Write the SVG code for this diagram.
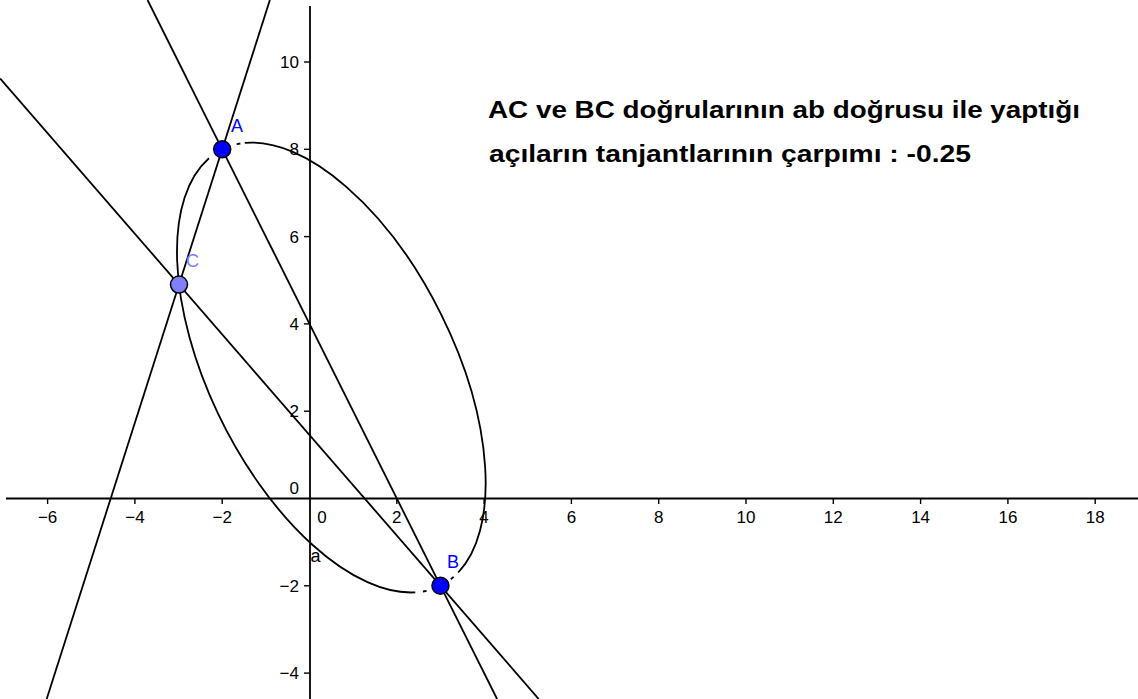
<svg xmlns="http://www.w3.org/2000/svg" width="1138" height="699" viewBox="0 0 1138 699">
<style>
.ax{stroke:#000;stroke-width:1.8;fill:none}
.tk{stroke:#000;stroke-width:1.4}
.ln{stroke:#000;stroke-width:1.8;fill:none}
.cv{stroke:#000;stroke-width:1.8;fill:none}
.num{font-family:"Liberation Sans",Arial,sans-serif;font-size:17px;fill:#000}
.lbl{font-family:"Liberation Sans",Arial,sans-serif;font-size:18px;fill:#000}
.xn{text-anchor:middle}
.yn{text-anchor:end}
.pl{font-family:"Liberation Sans",Arial,sans-serif;font-size:18px}
.pt{stroke:#000;stroke-width:1.5}
.ttl{font-family:"Liberation Sans",Arial,sans-serif;font-size:24px;font-weight:bold;fill:#000}
</style>
<rect width="1138" height="699" fill="#fff"/>
<g id="axes">
<line class="ax" x1="6" y1="498.5" x2="1138" y2="498.5"/>
<line class="ax" x1="310" y1="6" x2="310" y2="699"/>
<g class="tk">
<line x1="47.6" y1="498.5" x2="47.6" y2="504"/>
<line x1="134.9" y1="498.5" x2="134.9" y2="504"/>
<line x1="222.2" y1="498.5" x2="222.2" y2="504"/>
<line x1="396.8" y1="498.5" x2="396.8" y2="504"/>
<line x1="484.1" y1="498.5" x2="484.1" y2="504"/>
<line x1="571.4" y1="498.5" x2="571.4" y2="504"/>
<line x1="658.7" y1="498.5" x2="658.7" y2="504"/>
<line x1="746" y1="498.5" x2="746" y2="504"/>
<line x1="833.3" y1="498.5" x2="833.3" y2="504"/>
<line x1="920.6" y1="498.5" x2="920.6" y2="504"/>
<line x1="1007.9" y1="498.5" x2="1007.9" y2="504"/>
<line x1="1095.2" y1="498.5" x2="1095.2" y2="504"/>
<line x1="304" y1="62" x2="310" y2="62"/>
<line x1="304" y1="149.3" x2="310" y2="149.3"/>
<line x1="304" y1="236.6" x2="310" y2="236.6"/>
<line x1="304" y1="323.9" x2="310" y2="323.9"/>
<line x1="304" y1="411.2" x2="310" y2="411.2"/>
<line x1="304" y1="585.8" x2="310" y2="585.8"/>
<line x1="304" y1="673.1" x2="310" y2="673.1"/>
</g>
<g class="num xn">
<text x="47.6" y="523">−6</text>
<text x="134.9" y="523">−4</text>
<text x="222.2" y="523">−2</text>
<text x="322" y="523">0</text>
<text x="396.8" y="523">2</text>
<text x="484.1" y="523">4</text>
<text x="571.4" y="523">6</text>
<text x="658.7" y="523">8</text>
<text x="746" y="523">10</text>
<text x="833.3" y="523">12</text>
<text x="920.6" y="523">14</text>
<text x="1007.9" y="523">16</text>
<text x="1095.2" y="523">18</text>
</g>
<g class="num yn">
<text x="299" y="68">10</text>
<text x="299" y="155.3">8</text>
<text x="299" y="242.6">6</text>
<text x="299" y="329.9">4</text>
<text x="299" y="417.2">2</text>
<text x="299" y="494">0</text>
<text x="299" y="591.8">−2</text>
<text x="299" y="679.1">−4</text>
</g>
</g>
<g id="connectors">
<line class="ln" x1="147.55" y1="0" x2="497.05" y2="699"/>
<line class="ln" x1="269.87" y1="0" x2="46.68" y2="699"/>
<line class="ln" x1="0" y1="78.4" x2="538.7" y2="699"/>
</g>
<g id="ellipse-a">
<path class="cv" d="M458.22,572.5 A244 122 63.43 0 0 244.77,142.93"/>
<path class="cv" d="M208.98,158.21 A244 122 63.43 0 0 415.31,592.37"/>
<line class="cv" x1="240.36" y1="143.5" x2="236.65" y2="144.2"/>
<line class="cv" x1="450.8" y1="579.26" x2="453.68" y2="576.89"/>
<line class="cv" x1="422.92" y1="591.5" x2="426.6" y2="590.76"/>
<text class="lbl" x="310.5" y="562">a</text>
</g>
<g id="point-A">
<circle class="pt" cx="222.2" cy="149.3" r="8.5" fill="#0000ff"/>
<text class="pl" x="231" y="132" fill="#0000ff">A</text>
</g>
<g id="point-C">
<circle class="pt" cx="179" cy="284.6" r="8.5" fill="#8080ff"/>
<text class="pl" x="186" y="267" fill="#8080ff">C</text>
</g>
<g id="point-B">
<circle class="pt" cx="440.45" cy="585.8" r="8.5" fill="#0000ff"/>
<text class="pl" x="447" y="568" fill="#0000ff">B</text>
</g>
<g id="caption">
<text class="ttl" x="488" y="118" textLength="592" lengthAdjust="spacingAndGlyphs">AC ve BC doğrularının ab doğrusu ile yaptığı</text>
<text class="ttl" x="489" y="161.5" textLength="482" lengthAdjust="spacingAndGlyphs">açıların tanjantlarının çarpımı : -0.25</text>
</g>
</svg>
